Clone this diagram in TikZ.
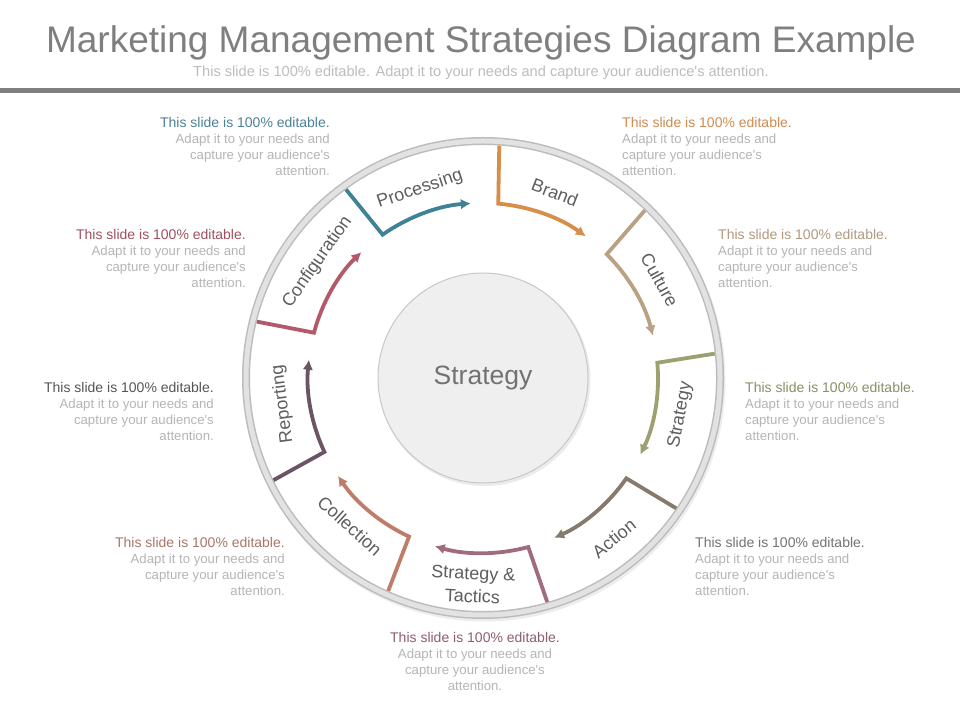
\documentclass[tikz,border=0pt]{standalone}
\usepackage{fontspec}
\setmainfont{Liberation Sans}[Ligatures=TeXOff]
\usetikzlibrary{arrows.meta}
\definecolor{procC}{HTML}{3E8296}
\definecolor{brandC}{HTML}{D98E48}
\definecolor{cultC}{HTML}{B9A283}
\definecolor{stratC}{HTML}{9DA071}
\definecolor{actC}{HTML}{857A6B}
\definecolor{stC}{HTML}{A06A7F}
\definecolor{collC}{HTML}{C07C68}
\definecolor{repC}{HTML}{6B5564}
\definecolor{confC}{HTML}{B25A6A}
\definecolor{procH}{HTML}{4A8196}
\definecolor{brandH}{HTML}{D08C50}
\definecolor{cultH}{HTML}{B09A80}
\definecolor{stratH}{HTML}{8C8F68}
\definecolor{actH}{HTML}{737373}
\definecolor{stH}{HTML}{8E5E70}
\definecolor{collH}{HTML}{A87668}
\definecolor{repH}{HTML}{555555}
\definecolor{confH}{HTML}{A0505F}
\definecolor{bodyG}{HTML}{B5B5B5}
\definecolor{titleG}{HTML}{7F7F7F}
\definecolor{subG}{HTML}{BDBDBD}
\definecolor{lblG}{HTML}{5E5E5E}
\definecolor{ringG}{HTML}{E2E2E2}
\definecolor{ringE}{HTML}{BCBCBC}
\definecolor{hubF}{HTML}{EFEFEF}
\definecolor{hubE}{HTML}{C8C8C8}
\newcommand{\blurb}[1]{{\fontsize{14}{16}\selectfont\textcolor{#1}{This slide is 100\% editable.}}\\Adapt it to your needs and\\capture your audience's\\attention.}
\begin{document}
\begin{tikzpicture}[x=1pt,y=1pt,
  seg/.style={line width=3.8pt, line join=miter, -{Latex[length=10pt,width=10.5pt]}},
  lbl/.style={font=\fontsize{18}{22}\selectfont, text=lblG, inner sep=0pt},
  txtblk/.style={font=\fontsize{13.2}{16}\selectfont, text=bodyG, inner sep=0pt}]
\useasboundingbox (0,0) rectangle (960,720);
\fill[white] (0,0) rectangle (960,720);
% title
\node[anchor=base, font=\fontsize{37}{40}\selectfont, text=titleG, inner sep=0pt] (title) at (481,667) {Marketing Management Strategies Diagram Example};
\node[anchor=base, font=\fontsize{14.6}{16}\selectfont, text=subG, inner sep=0pt] (sub) at (481,643) {This slide is 100\% editable.  Adapt it to your needs and capture your audience's attention.};
\fill[titleG] (0,626.5) rectangle (960,631.5);
% ring
\coordinate (C) at (483,342);
\begin{scope}[shift={(483,342)}]
  \draw[black!7, line width=4pt] (1.5,-2.5) circle[radius=239];
  \draw[ringE, line width=8pt] (0,0) circle[radius=237];
  \draw[ringG, line width=5pt] (0,0) circle[radius=237];
  \fill[black!8] (1.5,-2) circle[radius=106];
  \draw[hubE, fill=hubF, line width=1pt] (0,0) circle[radius=105];
  \node[font=\fontsize{26.5}{30}\selectfont, text=titleG!90!black] (hub) at (0,0) {Strategy};
  % segments
  \foreach \t/\c/\n in {126/procC/1, 86/brandC/2, 46/cultC/3, 6/stratC/4, -34/actC/5, -74/stC/6, -114/collC/7, -154/repC/8, 166/confC/9}{
    \coordinate (s\n) at (\t:233);
    \coordinate (k\n) at (\t-1:175);
    \draw[seg, \c] (s\n) -- (k\n) arc[start angle=\t-1, end angle=\t-32, radius=175];
  }
  % labels
  \node[lbl, rotate=18.5] (l1) at (108.5:199) {Processing};
  \node[lbl, rotate=-21.2] (l2) at (68.8:199) {Brand};
  \node[lbl, rotate=-61] (l3) at (29:202) {Culture};
  \node[lbl, rotate=79.4] (l4) at (-10.6:201) {Strategy};
  \node[lbl, rotate=39.2] (l5) at (-50.8:207) {Action};
  \node[lbl, rotate=-2.8, align=center, font=\fontsize{18}{23}\selectfont] (l6) at (-92.8:207) {Strategy \&\\Tactics};
  \node[lbl, rotate=-42] (l7) at (-132:199) {Collection};
  \node[lbl, rotate=97.4] (l8) at (-172.6:202) {Reporting};
  \node[lbl, rotate=55] (l9) at (145:202) {Configuration};
\end{scope}
% text blocks
\node[txtblk, anchor=north east, align=right] (t1) at (330,603) {\blurb{procH}};
\node[txtblk, anchor=north east, align=right] (t9) at (246,491) {\blurb{confH}};
\node[txtblk, anchor=north east, align=right] (t8) at (214,338) {\blurb{repH}};
\node[txtblk, anchor=north east, align=right] (t7) at (285,183) {\blurb{collH}};
\node[txtblk, anchor=north, align=center] (t6) at (475,88) {\blurb{stH}};
\node[txtblk, anchor=north west, align=left] (t5) at (695,183) {\blurb{actH}};
\node[txtblk, anchor=north west, align=left] (t4) at (745,338) {\blurb{stratH}};
\node[txtblk, anchor=north west, align=left] (t3) at (718,491) {\blurb{cultH}};
\node[txtblk, anchor=north west, align=left] (t2) at (622,603) {\blurb{brandH}};
\end{tikzpicture}
\end{document}
